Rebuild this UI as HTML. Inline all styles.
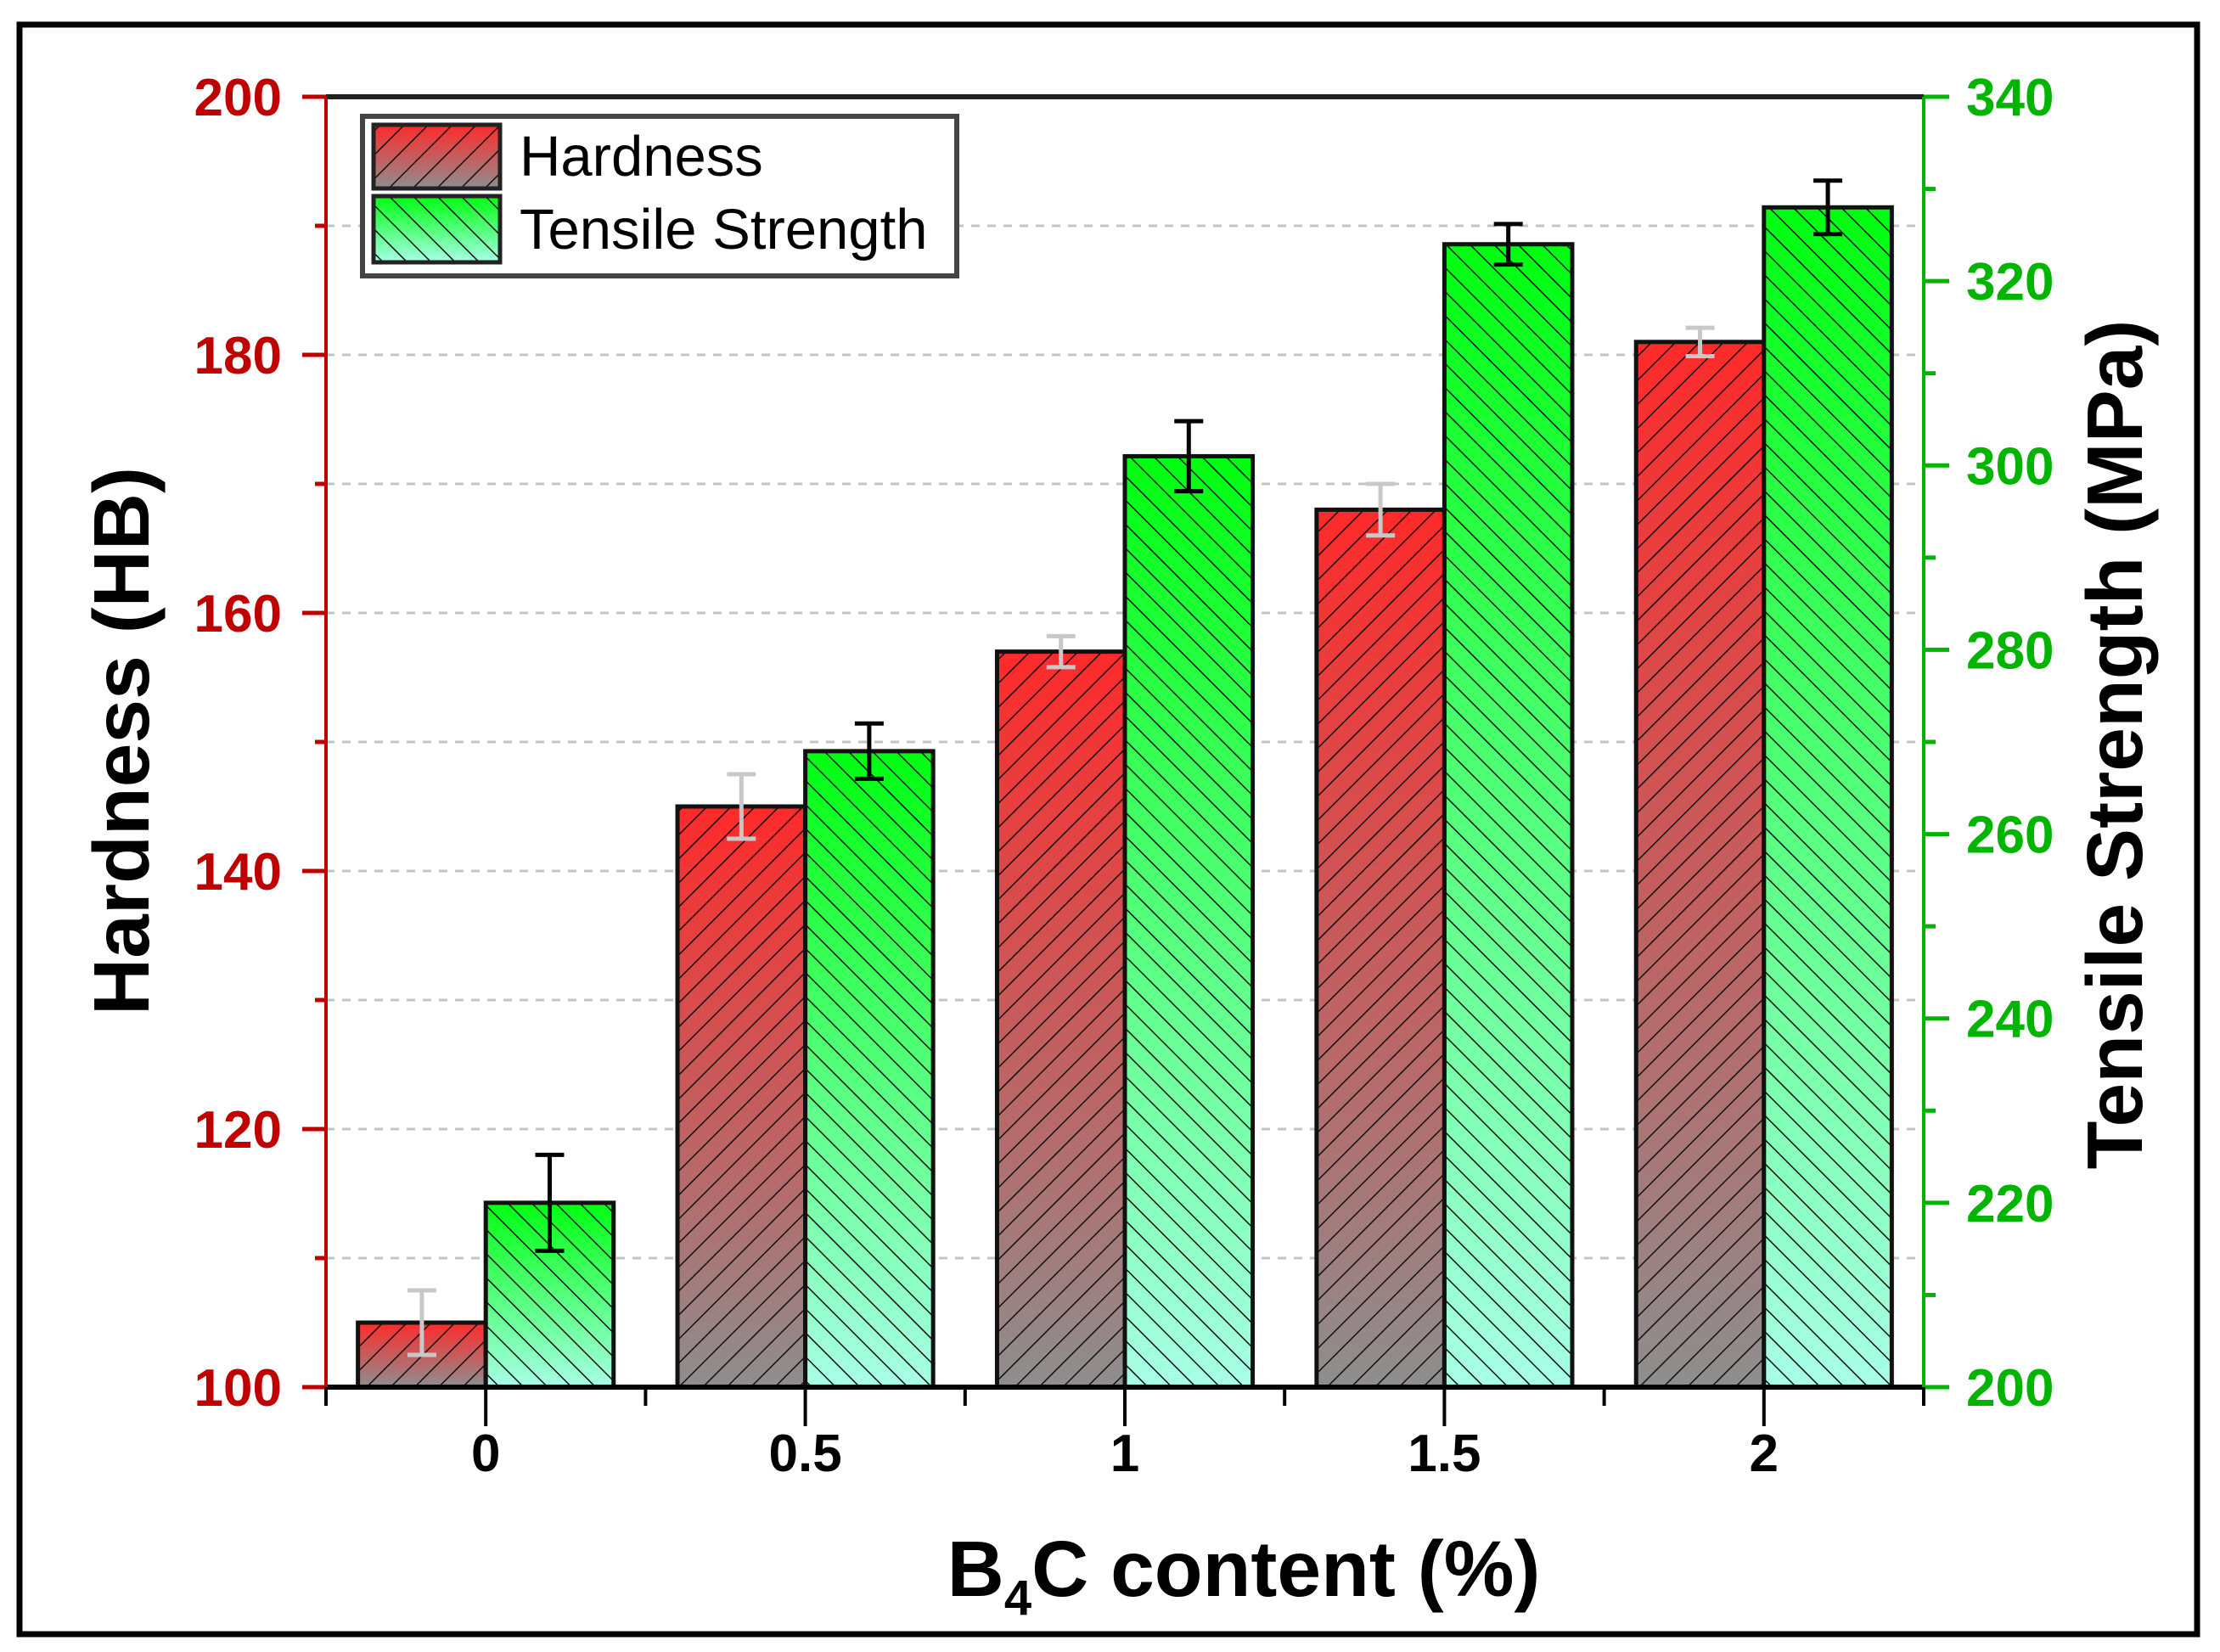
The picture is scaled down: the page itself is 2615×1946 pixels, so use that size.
<!DOCTYPE html>
<html><head><meta charset="utf-8"><style>
html,body{margin:0;padding:0;background:#fff;}
svg{display:block;}
</style></head><body>
<svg id="chart" width="2615" height="1946" viewBox="0 0 2615 1946" xmlns="http://www.w3.org/2000/svg" font-family="Liberation Sans, Arial, sans-serif">
<defs>
<linearGradient id="gradH" x1="0" y1="0" x2="0" y2="1"><stop offset="0" stop-color="#ff2a2a"/><stop offset="1" stop-color="#8e8e8e"/></linearGradient>
<linearGradient id="gradT" x1="0" y1="0" x2="0" y2="1"><stop offset="0" stop-color="#00ff10"/><stop offset="1" stop-color="#a8ffe6"/></linearGradient>
<pattern id="hatchH" patternUnits="userSpaceOnUse" width="20" height="20" patternTransform="rotate(45)"><line x1="0" y1="0" x2="0" y2="20" stroke="#111" stroke-width="3"/></pattern>
<pattern id="hatchT" patternUnits="userSpaceOnUse" width="20" height="20" patternTransform="rotate(-45)"><line x1="0" y1="0" x2="0" y2="20" stroke="#111" stroke-width="3"/></pattern>
</defs>
<rect x="23" y="29" width="2565" height="1896" fill="#fff" stroke="#000" stroke-width="7"/>
<g id="grid"></g>
<g id="bars"></g>
<g id="axes"></g>
<g>
<rect x="427" y="137" width="700" height="188" fill="#fff" stroke="#444" stroke-width="6"/>
<g>
<rect x="440" y="147" width="149" height="75" fill="url(#gradH)"/>
<rect x="440" y="147" width="149" height="75" fill="url(#hatchH)" stroke="#222" stroke-width="5"/>
<text x="612" y="207" font-size="67" fill="#000">Hardness</text>
</g>
<g>
<rect x="440" y="231" width="149" height="78" fill="url(#gradT)"/>
<rect x="440" y="231" width="149" height="78" fill="url(#hatchT)" stroke="#222" stroke-width="5"/>
<text x="612" y="293" font-size="67" fill="#000">Tensile Strength</text>
</g>
</g>
<text transform="translate(175,873) rotate(-90)" text-anchor="middle" font-size="93" font-weight="bold" fill="#000">Hardness (HB)</text>
<text transform="translate(2523,877) rotate(-90)" text-anchor="middle" font-size="93" font-weight="bold" fill="#000">Tensile Strength (MPa)</text>
<text x="1465" y="1880" text-anchor="middle" font-size="93" font-weight="bold" fill="#000">B<tspan font-size="58" dy="22">4</tspan><tspan dy="-22">C content (%)</tspan></text>
</svg>
<script>
const categories = ["0", "0.5", "1", "1.5", "2"];
const catValues = [0, 0.5, 1, 1.5, 2];
const hardness = [105, 145, 157, 168, 181];
const hardnessErr = [2.5, 2.5, 1.2, 2, 1.1];
const tensile = [220, 269, 301, 324, 328];
const tensileErr = [5.2, 3, 3.8, 2.2, 2.9];
const leftTicks = [100, 120, 140, 160, 180, 200];
const rightTicks = [200, 220, 240, 260, 280, 300, 320, 340];

const NS = "http://www.w3.org/2000/svg";
const PL = 384, PR = 2266, PT = 114, PB = 1634;
const xMin = -0.25, xMax = 2.25;
function xs(v){ return PL + (v - xMin) / (xMax - xMin) * (PR - PL); }
function yL(v){ return PB - (v - 100) / 100 * (PB - PT); }
function yR(v){ return PB - (v - 200) / 140 * (PB - PT); }
function mk(tag, attrs, parent){ const e = document.createElementNS(NS, tag); for (const k in attrs) e.setAttribute(k, attrs[k]); parent.appendChild(e); return e; }
const grid = document.getElementById('grid'), bars = document.getElementById('bars'), axes = document.getElementById('axes');

for (let v = 110; v < 200; v += 10) {
  const g = mk('line', {x1: PL, x2: PR, y1: yL(v), y2: yL(v), stroke: '#c4c4c4', 'stroke-width': 3, 'stroke-dasharray': '10 9'}, grid);
  
  
}

const bw = 0.2 * (PR - PL) / (xMax - xMin);
catValues.forEach((c, i) => {
  const cx = xs(c);
  // hardness
  const hy = yL(hardness[i]);
  const gH = mk('g', {}, bars);
  
  
  mk('rect', {x: cx - bw, y: hy, width: bw, height: PB - hy, fill: 'url(#gradH)'}, gH);
  mk('rect', {x: cx - bw, y: hy, width: bw, height: PB - hy, fill: 'url(#hatchH)', stroke: '#111', 'stroke-width': 5}, gH);
  // tensile
  const ty = yR(tensile[i]);
  const gT = mk('g', {}, bars);
  
  
  mk('rect', {x: cx, y: ty, width: bw, height: PB - ty, fill: 'url(#gradT)'}, gT);
  mk('rect', {x: cx, y: ty, width: bw, height: PB - ty, fill: 'url(#hatchT)', stroke: '#111', 'stroke-width': 5}, gT);
});
catValues.forEach((c, i) => {
  const cx = xs(c);
  const ex = cx - bw / 2;
  const eH = mk('g', {stroke: '#c8c8c8', 'stroke-width': 5}, bars);
  
  
  const a = yL(hardness[i] + hardnessErr[i]), b = yL(hardness[i] - hardnessErr[i]);
  mk('line', {x1: ex, x2: ex, y1: a, y2: b}, eH);
  mk('line', {x1: ex - 17, x2: ex + 17, y1: a, y2: a}, eH);
  mk('line', {x1: ex - 17, x2: ex + 17, y1: b, y2: b}, eH);
  const tx = cx + bw / 2;
  const eT = mk('g', {stroke: '#000', 'stroke-width': 5}, bars);
  
  
  const c1 = yR(tensile[i] + tensileErr[i]), c2 = yR(tensile[i] - tensileErr[i]);
  mk('line', {x1: tx, x2: tx, y1: c1, y2: c2}, eT);
  mk('line', {x1: tx - 17, x2: tx + 17, y1: c1, y2: c1}, eT);
  mk('line', {x1: tx - 17, x2: tx + 17, y1: c2, y2: c2}, eT);
});

// axis lines
let e;
e = mk('line', {x1: PL, x2: PR, y1: PT, y2: PT, stroke: '#222', 'stroke-width': 6}, axes);
 
e = mk('line', {x1: PL, x2: PR, y1: PB, y2: PB, stroke: '#000', 'stroke-width': 6}, axes);
 
e = mk('line', {x1: PL, x2: PL, y1: PT, y2: PB, stroke: '#c00000', 'stroke-width': 4}, axes);
 
e = mk('line', {x1: PR, x2: PR, y1: PT, y2: PB, stroke: '#00b400', 'stroke-width': 4}, axes);
 

// left ticks
for (let v = 100; v <= 200; v += 10) {
  const major = v % 20 === 0;
  e = mk('line', {x1: PL - (major ? 28 : 13), x2: PL, y1: yL(v), y2: yL(v), stroke: '#c00000', 'stroke-width': 5}, axes);
   
}
leftTicks.forEach(v => {
  const t = mk('text', {x: 332, y: yL(v) + 22, 'text-anchor': 'end', 'font-size': 62, 'font-weight': 'bold', fill: '#c00000'}, axes);
   
  t.textContent = v;
});
// right ticks
for (let v = 200; v <= 340; v += 10) {
  const major = v % 20 === 0;
  e = mk('line', {x1: PR, x2: PR + (major ? 30 : 14), y1: yR(v), y2: yR(v), stroke: '#00b400', 'stroke-width': 5}, axes);
   
}
rightTicks.forEach(v => {
  const t = mk('text', {x: 2316, y: yR(v) + 22, 'text-anchor': 'start', 'font-size': 62, 'font-weight': 'bold', fill: '#00b400'}, axes);
   
  t.textContent = v;
});
// x ticks
for (let v = -0.25; v <= 2.2501; v += 0.25) {
  const major = Math.abs(v * 2 - Math.round(v * 2)) < 1e-6;
  e = mk('line', {x1: xs(v), x2: xs(v), y1: PB, y2: PB + (major ? 46 : 22), stroke: '#000', 'stroke-width': 4}, axes);
   
}
catValues.forEach((c, i) => {
  const t = mk('text', {x: xs(c), y: 1733, 'text-anchor': 'middle', 'font-size': 62, 'font-weight': 'bold', fill: '#000'}, axes);
   
  t.textContent = categories[i];
});
</script>
</body></html>
